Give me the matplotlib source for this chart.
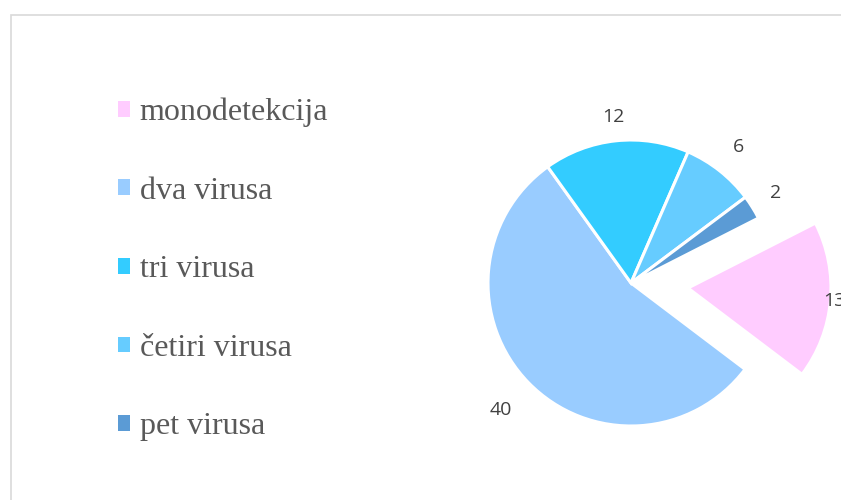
import numpy as np
import matplotlib.pyplot as plt
from matplotlib.patches import Patch, Rectangle

labels = ["monodetekcija", "dva virusa", "tri virusa", "četiri virusa", "pet virusa"]
values = [13, 40, 12, 6, 2]
colors = ["#FFCCFF", "#99CCFF", "#33CCFF", "#66CCFF", "#5B9BD5"]
explode = [0.4, 0, 0, 0, 0]
label_dist = [1.03, 1.27, 1.17, 1.21, 1.19]

fig = plt.figure(figsize=(8.41, 5), dpi=100)
fig.patches.append(Rectangle((11 / 841, -0.1), 1.2, 1.1 - 15 / 500,
                             transform=fig.transFigure, fill=False,
                             edgecolor="#d9d9d9", linewidth=1.2))

ax = fig.add_axes([0, 0, 1, 1])
scale = 143.0
cx, cy = 631, 283
wedges, _ = ax.pie(values, colors=colors, explode=explode, startangle=27,
                   counterclock=False,
                   wedgeprops=dict(edgecolor="white", linewidth=2.2))
ax.set_xlim(-cx / scale, (841 - cx) / scale)
ax.set_ylim(-(500 - cy) / scale, cy / scale)
ax.set_aspect("equal")
ax.axis("off")

for w, v, d in zip(wedges, values, label_dist):
    th = np.deg2rad((w.theta1 + w.theta2) / 2)
    x0, y0 = w.center
    ax.text(x0 + d * np.cos(th), y0 + d * np.sin(th), str(v),
            ha="center", va="center", fontsize=14, color="#404040",
            family="Open Sans", clip_on=False)

handles = [Patch(facecolor=c, edgecolor="none") for c in colors]
fig.legend(handles, labels, loc="upper left", bbox_to_anchor=(0.125, 0.83),
           frameon=False, prop=dict(family="Liberation Serif", size=23),
           labelcolor="#595959", handlelength=0.38, handleheight=0.38,
           handletextpad=0.3, labelspacing=1.55, borderaxespad=0)

fig.savefig("out.png", dpi=100)
